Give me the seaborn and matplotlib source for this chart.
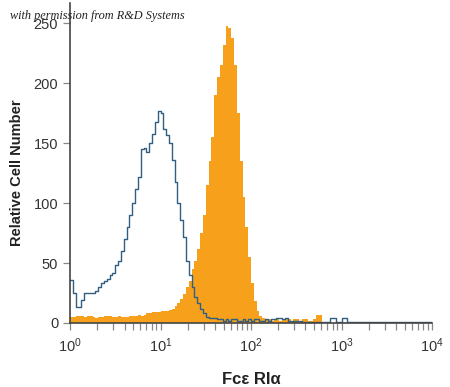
import numpy as np
import pandas as pd
import matplotlib
matplotlib.use("Agg")
import matplotlib.pyplot as plt
import seaborn as sns

# histogram channels: 32 bins per decade, 10^0 .. 10^4
bins_per_decade = 32
edges = 10 ** (np.arange(129) / bins_per_decade)
centers = np.sqrt(edges[:-1] * edges[1:])

# isotype control (blue outline)
isotype = [
    36, 25, 13, 13, 19, 25, 25, 25, 25, 27, 30, 33, 35, 37, 40, 42,
    48, 52, 60, 70, 80, 90, 100, 112, 122, 145, 146, 143, 150, 158, 168, 177,
    175, 162, 157, 150, 136, 118, 100, 86, 72, 52, 40, 30, 22, 17, 12, 8,
    5, 4, 4, 4, 3, 3, 2, 3, 2, 3, 3, 2, 2, 3, 2, 3,
    2, 3, 3, 2, 2, 3, 2, 3, 3, 4, 4, 3, 4, 2, 2, 2,
    2, 2, 1, 1, 1, 1, 1, 1, 1, 1, 1, 1, 4, 4, 1, 1,
    4, 4, 1, 1, 1, 1, 1, 1, 1, 1, 1, 1, 1, 1, 1, 1,
    1, 1, 1, 1, 1, 1, 1, 1, 1, 1, 1, 1, 1, 1, 1, 1,
]

# Fc epsilon RI alpha stained cells (orange fill)
stained = [
    5, 5, 6, 6, 6, 5, 6, 6, 5, 4, 5, 5, 6, 6, 6, 5,
    5, 6, 5, 5, 5, 6, 6, 6, 7, 6, 7, 8, 8, 9, 9, 9,
    10, 10, 10, 11, 12, 14, 17, 20, 24, 30, 35, 45, 52, 62, 75, 90,
    115, 135, 155, 190, 205, 215, 232, 248, 246, 238, 215, 175, 135, 105, 80, 55,
    33, 18, 10, 6, 4, 3, 3, 2, 3, 3, 2, 3, 3, 3, 2, 3,
    3, 2, 3, 3, 2, 2, 3, 7, 7, 0, 0, 0, 0, 0, 0, 0,
    0, 0, 0, 0, 0, 0, 0, 0, 0, 0, 0, 0, 0, 0, 0, 0,
    0, 0, 0, 0, 0, 0, 0, 0, 0, 0, 0, 0, 0, 0, 0, 0,
]

# expand the channel counts into events so histplot counts them itself
iso_events = np.repeat(centers, isotype)
stain_events = np.repeat(centers, stained)

sns.set_style("ticks")
plt.rcParams['font.family'] = ['Liberation Sans', 'DejaVu Sans']
plt.rcParams['mathtext.fontset'] = 'custom'
plt.rcParams['mathtext.rm'] = 'Liberation Sans'

fig = plt.figure(figsize=(4.5, 3.87), dpi=100)
ax = fig.add_axes([0.1556, 0.1654, 0.8044, 0.827])

sns.histplot(x=stain_events, bins=list(edges), element="step",
             fill=True, color="#f7a01c", alpha=1, linewidth=0, ax=ax)
sns.histplot(x=iso_events, bins=list(edges), element="step",
             fill=False, color="#2f5f82", linewidth=1.0, ax=ax)

ax.set_xscale("log")
ax.set_xlim(1, 1e4)
ax.set_ylim(0, 267)
ax.set_yticks([0, 50, 100, 150, 200, 250])
ax.set_xticks([1, 10, 100, 1000, 10000])
ax.set_xticklabels([r"$\mathregular{10^{0}}$", r"$\mathregular{10^{1}}$",
                    r"$\mathregular{10^{2}}$", r"$\mathregular{10^{3}}$",
                    r"$\mathregular{10^{4}}$"])
ax.set_xticks([m * 10 ** k for k in range(4) for m in range(2, 10)], minor=True)
ax.tick_params(axis="both", which="both", direction="out", length=5, width=0.9,
               color="#888888", labelsize=10.5, labelcolor="#333333")
ax.tick_params(axis="x", which="major", pad=5)
sns.despine(ax=ax)
for s in ("left", "bottom"):
    ax.spines[s].set_color("#444444")
    ax.spines[s].set_linewidth(1.2)

ax.set_ylabel("Relative Cell Number", fontsize=10.5, fontweight="bold",
              color="#222222")
ax.yaxis.set_label_coords(-0.128, 0.47)
ax.set_xlabel("Fc\u03b5 RI\u03b1", fontsize=12, fontweight="bold", color="#222222",
              labelpad=12)

fig.text(0.022, 0.95, "with permission from R&D Systems", fontsize=8.8,
         fontstyle="italic", family="Liberation Serif", color="#222222")

fig.savefig("out.png", dpi=100)
